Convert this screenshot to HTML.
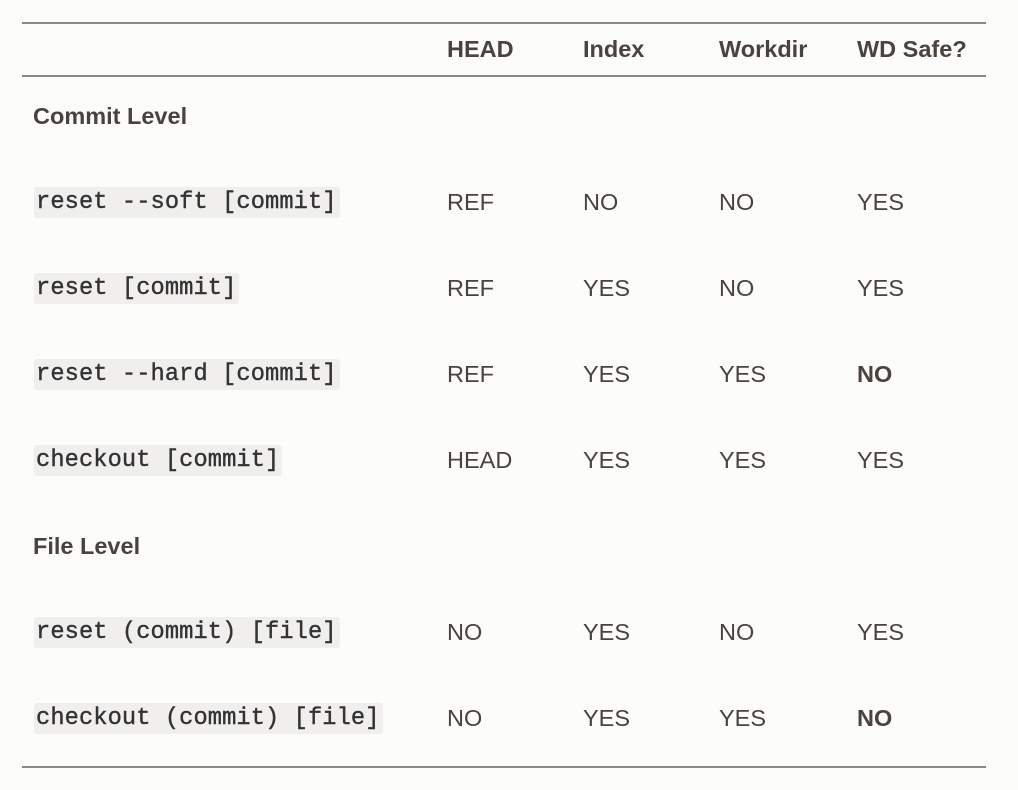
<!DOCTYPE html>
<html><head><meta charset="utf-8"><style>
body{margin:0;width:1018px;height:790px;background:#fcfcfb;position:relative;overflow:hidden;font-family:"Liberation Sans",sans-serif;color:#4a423c;}
.l{position:absolute;left:22px;width:964px;height:2px;background:#8a8785;}
.t{position:absolute;font-size:23.5px;line-height:26px;transform:translateY(-13px);white-space:nowrap;}
.h{font-weight:bold;font-size:23.5px;color:#4a423c;}
.c{position:absolute;left:34px;font-family:"Liberation Mono",monospace;font-size:23.7px;line-height:31px;background:#f0efee;border-radius:3px;padding:0 3px 0 2px;transform:translateY(-16px);white-space:nowrap;color:#333;letter-spacing:0.1px;-webkit-text-stroke:0.4px #333;}
</style></head><body>
<div class="l" style="top:22px"></div>
<div class="l" style="top:75px"></div>
<div class="l" style="top:766px"></div>

<div class="t h" style="left:447px;top:49px">HEAD</div>
<div class="t h" style="left:583px;top:49px">Index</div>
<div class="t h" style="left:719px;top:49px">Workdir</div>
<div class="t h" style="left:857px;top:49px">WD Safe?</div>

<div class="t h" style="left:33px;top:116px">Commit Level</div>

<div class="c" style="top:203px">reset --soft [commit]</div>
<div class="t" style="left:447px;top:202px">REF</div>
<div class="t" style="left:583px;top:202px">NO</div>
<div class="t" style="left:719px;top:202px">NO</div>
<div class="t" style="left:857px;top:202px">YES</div>

<div class="c" style="top:289px">reset [commit]</div>
<div class="t" style="left:447px;top:288px">REF</div>
<div class="t" style="left:583px;top:288px">YES</div>
<div class="t" style="left:719px;top:288px">NO</div>
<div class="t" style="left:857px;top:288px">YES</div>

<div class="c" style="top:375px">reset --hard [commit]</div>
<div class="t" style="left:447px;top:374px">REF</div>
<div class="t" style="left:583px;top:374px">YES</div>
<div class="t" style="left:719px;top:374px">YES</div>
<div class="t h" style="left:857px;top:374px">NO</div>

<div class="c" style="top:461px">checkout [commit]</div>
<div class="t" style="left:447px;top:460px">HEAD</div>
<div class="t" style="left:583px;top:460px">YES</div>
<div class="t" style="left:719px;top:460px">YES</div>
<div class="t" style="left:857px;top:460px">YES</div>

<div class="t h" style="left:33px;top:546px">File Level</div>

<div class="c" style="top:633px">reset (commit) [file]</div>
<div class="t" style="left:447px;top:632px">NO</div>
<div class="t" style="left:583px;top:632px">YES</div>
<div class="t" style="left:719px;top:632px">NO</div>
<div class="t" style="left:857px;top:632px">YES</div>

<div class="c" style="top:719px">checkout (commit) [file]</div>
<div class="t" style="left:447px;top:718px">NO</div>
<div class="t" style="left:583px;top:718px">YES</div>
<div class="t" style="left:719px;top:718px">YES</div>
<div class="t h" style="left:857px;top:718px">NO</div>
</body></html>
